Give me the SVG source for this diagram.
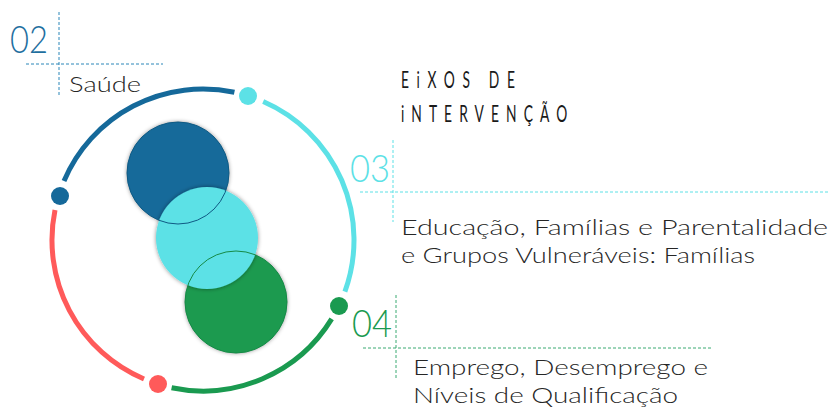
<svg xmlns="http://www.w3.org/2000/svg" width="831" height="408" viewBox="0 0 831 408">
<style>
.body{font-family:"Lato","Liberation Sans",sans-serif;font-weight:300;font-size:21px;fill:#262626}
.num{font-family:"Lato","Liberation Sans",sans-serif;font-weight:300;font-size:38px}
.title{font-family:"Lato","Liberation Sans",sans-serif;font-weight:400;font-size:23px;fill:#1a1a1a}
.ring{fill:none;stroke-width:5;stroke-linecap:butt}
.dash{fill:none;stroke-width:1;stroke-dasharray:3 2}
</style>
<defs>
<filter id="sh" x="-20%" y="-20%" width="140%" height="140%">
<feDropShadow dx="0" dy="0" stdDeviation="2" flood-color="#000" flood-opacity="0.45"/>
</filter>
</defs>
<rect width="831" height="408" fill="#fff"/>
<g id="connectors">
<path class="ring" stroke="#15699a" d="M64,181 A151,151 0 0 1 234.4,92.3"/>
<path class="ring" stroke="#5ce1e6" d="M263.2,101.5 A151,151 0 0 1 344.9,291.6"/>
<path class="ring" stroke="#1a9a50" d="M331.7,318.9 A151,151 0 0 1 171.6,387.7"/>
<path class="ring" stroke="#ff5a5a" d="M144,379 A151,151 0 0 1 55,209.9"/>
<circle cx="60" cy="196" r="9" fill="#15699a"/>
<circle cx="248" cy="96" r="9" fill="#5ce1e6"/>
<circle cx="339" cy="306" r="9" fill="#1a9a50"/>
<circle cx="158" cy="384" r="9" fill="#ff5a5a"/>
</g>
<g id="venn">
<circle cx="178" cy="173" r="51" fill="#136a9a" filter="url(#sh)"/>
<circle cx="236" cy="302" r="51" fill="#1a9a50" filter="url(#sh)"/>
<circle cx="207" cy="238" r="51" fill="#5ce1e6" filter="url(#sh)"/>
<circle cx="178" cy="173" r="51" fill="none" stroke="#0f5a84" stroke-width="1"/>
<circle cx="236" cy="302" r="51" fill="none" stroke="#168a46" stroke-width="1"/>
</g>
<g id="n02">
<path class="dash" stroke="#2a86b8" d="M59,12 V97 M26,64 H163"/>
<text class="num" x="10" y="53" fill="#1f6f9f" textLength="38" lengthAdjust="spacingAndGlyphs">02</text>
<text class="body" x="69" y="92" textLength="72" lengthAdjust="spacingAndGlyphs">Saúde</text>
</g>
<g id="title">
<text class="title" transform="translate(401,88) scale(0.6,1)" x="0" y="0" textLength="190" lengthAdjust="spacing">EiXOS DE</text>
<text class="title" transform="translate(401,122) scale(0.6,1)" x="0" y="0" textLength="277" lengthAdjust="spacing">iNTERVENÇÃO</text>
</g>
<g id="n03">
<path class="dash" stroke="#5ce1e6" d="M393,140 V222 M360,192 H830"/>
<text class="num" x="350" y="182" fill="#5ce1e6" textLength="40" lengthAdjust="spacingAndGlyphs">03</text>
<text class="body" x="401" y="235" textLength="427" lengthAdjust="spacingAndGlyphs">Educação, Famílias e Parentalidade</text>
<text class="body" x="401" y="263" textLength="354" lengthAdjust="spacingAndGlyphs">e Grupos Vulneráveis: Famílias</text>
</g>
<g id="n04">
<path class="dash" stroke="#3aaa72" d="M396,295 V380 M363,348 H712"/>
<text class="num" x="352" y="337" fill="#1a9a50" textLength="40" lengthAdjust="spacingAndGlyphs">04</text>
<text class="body" x="413" y="375" textLength="295" lengthAdjust="spacingAndGlyphs">Emprego, Desemprego e</text>
<text class="body" x="413" y="403" textLength="265" lengthAdjust="spacingAndGlyphs">Níveis de Qualificação</text>
</g>
</svg>
